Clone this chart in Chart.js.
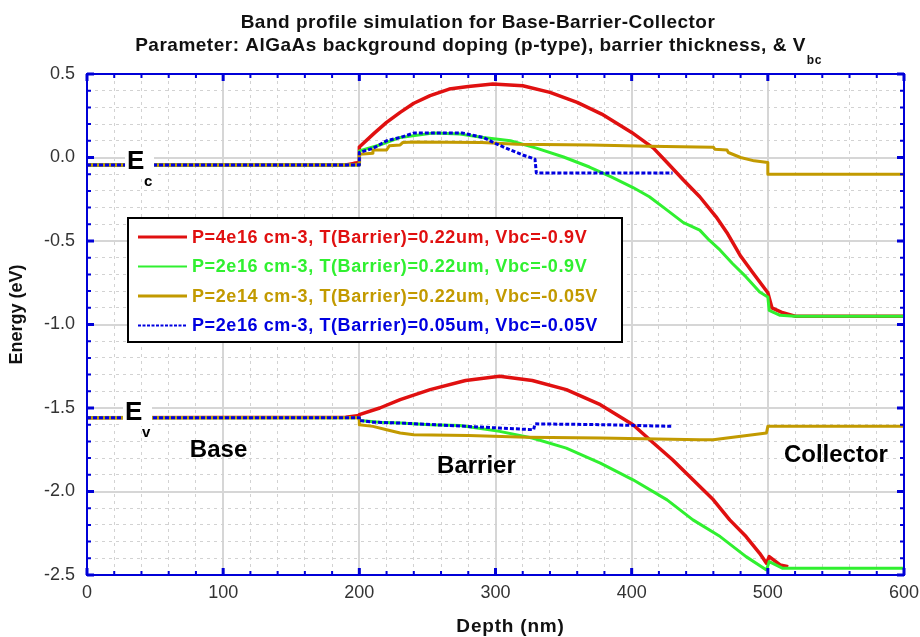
<!DOCTYPE html>
<html>
<head>
<meta charset="utf-8">
<script src="https://cdn.jsdelivr.net/npm/chart.js@4.4.1/dist/chart.umd.min.js"></script>
<style>
  body { margin: 0; background: #fff; }
</style>
</head>
<body>
<canvas id="bandcanvas" width="920" height="637"></canvas>
<script>
// x limits (nm) and energy limits (eV)
const depthMin = 0;
const depthMax = 600;
const energyMin = -2.5;
const energyMax = 0.5;

const legendLabels = [
  'P=4e16 cm-3, T(Barrier)=0.22um, Vbc=-0.9V',
  'P=2e16 cm-3, T(Barrier)=0.22um, Vbc=-0.9V',
  'P=2e14 cm-3, T(Barrier)=0.22um, Vbc=-0.05V',
  'P=2e16 cm-3, T(Barrier)=0.05um, Vbc=-0.05V'
];
const seriesColors = ['#e01010', '#30f030', '#c29a00', '#0000e0'];

// conduction band edges, [depth nm, energy eV]
const redEc = [[0,-0.045],[190,-0.045],[196,-0.035],[200,-0.03],[200,0.063],[211,0.146],[220,0.21],[230,0.27],
  [240,0.325],[252,0.37],[266,0.41],[280,0.425],[298,0.44],[320,0.43],[340,0.39],[360,0.33],[378,0.26],
  [400,0.15],[416,0.056],[426,-0.03],[438,-0.135],[450,-0.235],[462,-0.355],[470,-0.45],[480,-0.59],
  [489,-0.69],[500,-0.81],[503,-0.90],[511,-0.93],[520,-0.95],[600,-0.95]];
const greenEc = [[0,-0.045],[200,-0.045],[200,0.04],[215,0.075],[230,0.12],[254,0.146],[274,0.14],[291,0.12],
  [311,0.10],[330,0.056],[350,0.003],[369,-0.057],[385,-0.116],[401,-0.18],[413,-0.235],[426,-0.315],
  [438,-0.39],[450,-0.435],[457,-0.495],[465,-0.555],[474,-0.635],[484,-0.715],[494,-0.805],[500,-0.835],
  [501,-0.915],[509,-0.945],[520,-0.95],[600,-0.95]];
const goldEc = [[0,-0.045],[200,-0.045],[200,0.02],[210,0.025],[210,0.045],[220,0.045],[222,0.07],[230,0.075],
  [232,0.09],[240,0.093],[290,0.09],[316,0.08],[370,0.075],[413,0.068],[460,0.062],[461,0.05],[470,0.045],
  [471,0.03],[480,0.0],[490,-0.02],[500,-0.03],[500,-0.10],[600,-0.10]];
const blueEc = [[0,-0.045],[200,-0.045],[200,0.03],[210,0.055],[220,0.10],[230,0.12],[240,0.146],[276,0.146],
  [291,0.12],[301,0.08],[311,0.045],[320,0.015],[329,-0.01],[330,-0.093],[430,-0.093]];

// valence band edges
const redEv = [[0,-1.558],[190,-1.555],[200,-1.545],[200,-1.54],[215,-1.50],[230,-1.45],[252,-1.39],[278,-1.335],
  [303,-1.31],[327,-1.335],[352,-1.39],[377,-1.48],[401,-1.60],[416,-1.71],[430,-1.81],[445,-1.93],
  [460,-2.05],[472,-2.17],[484,-2.27],[494,-2.37],[499,-2.43],[501,-2.39],[509,-2.44],[515,-2.45]];
const greenEv = [[0,-1.558],[200,-1.558],[200,-1.575],[215,-1.585],[230,-1.59],[252,-1.60],[274,-1.605],
  [303,-1.64],[327,-1.68],[352,-1.74],[377,-1.83],[401,-1.93],[426,-2.05],[445,-2.17],[465,-2.27],
  [484,-2.39],[499,-2.47],[501,-2.42],[511,-2.46],[600,-2.46]];
const goldEv = [[0,-1.558],[200,-1.558],[200,-1.60],[210,-1.61],[220,-1.63],[230,-1.65],[240,-1.66],[280,-1.665],
  [323,-1.675],[377,-1.68],[450,-1.69],[460,-1.69],[470,-1.68],[489,-1.66],[499,-1.65],[500,-1.61],[600,-1.61]];
const blueEv = [[0,-1.558],[200,-1.558],[200,-1.575],[210,-1.585],[230,-1.59],[279,-1.61],[303,-1.62],
  [328,-1.63],[329,-1.595],[380,-1.60],[430,-1.61]];

// region names placed in data units: [text, depth, energy]
const regionLabels = [['Base', 96.6, -1.751], ['Barrier', 286, -1.847], ['Collector', 550, -1.781]];

const axisBlue = '#0000d8';
const fontFamily = "'Liberation Sans', Arial, sans-serif";

function isMajorX(v) { return Math.abs(v % 100) < 1e-6; }
function isMajorY(v) { return Math.abs(v * 2 - Math.round(v * 2)) < 1e-6; }

// one dataset per run, Ec and Ev split by a null point
function bandData(ec, ev) {
  const pts = ec.map(p => ({x: p[0], y: p[1]}));
  pts.push({x: ec[ec.length - 1][0], y: null});
  return pts.concat(ev.map(p => ({x: p[0], y: p[1]})));
}

const datasets = [
  {label: legendLabels[0], data: bandData(redEc, redEv), borderColor: seriesColors[0], borderWidth: 3.5, order: 3},
  {label: legendLabels[1], data: bandData(greenEc, greenEv), borderColor: seriesColors[1], borderWidth: 3, order: 2},
  {label: legendLabels[2], data: bandData(goldEc, goldEv), borderColor: seriesColors[2], borderWidth: 3, order: 1},
  {label: legendLabels[3], data: bandData(blueEc, blueEv), borderColor: seriesColors[3], borderWidth: 3,
   borderDash: [4, 2], order: 0}
];

const bandDecor = {
  id: 'bandDecor',
  afterDatasetsDraw(chart) {
    const ctx = chart.ctx;
    const {left, right, top, bottom} = chart.chartArea;
    const xs = chart.scales.x, ys = chart.scales.y;
    ctx.save();

    // E_c / E_v labels on white patches
    const subLabel = (d, e, sub, subDy) => {
      const px = xs.getPixelForValue(d), py = ys.getPixelForValue(e);
      ctx.fillStyle = '#fff';
      ctx.fillRect(px - 2, py - 14, 29, 27);
      ctx.fillStyle = '#000';
      ctx.font = 'bold 26px ' + fontFamily;
      ctx.textBaseline = 'middle';
      ctx.textAlign = 'left';
      ctx.fillText('E', px, py);
      ctx.font = 'bold 15px ' + fontFamily;
      ctx.fillText(sub, px + 17, py + subDy);
    };
    subLabel(29.4, -0.027, 'c', 20);
    subLabel(27.9, -1.53, 'v', 20);

    // region names
    ctx.font = 'bold 24px ' + fontFamily;
    ctx.textAlign = 'center';
    ctx.textBaseline = 'middle';
    ctx.fillStyle = '#000';
    regionLabels.forEach(r => ctx.fillText(r[0], xs.getPixelForValue(r[1]), ys.getPixelForValue(r[2])));

    // frame and inward ticks
    ctx.strokeStyle = axisBlue;
    ctx.lineWidth = 2;
    ctx.strokeRect(left, top, right - left, bottom - top);
    xs.ticks.forEach(t => {
      const px = xs.getPixelForValue(t.value);
      const len = isMajorX(t.value) ? 7 : 4;
      ctx.lineWidth = isMajorX(t.value) ? 3 : 2;
      ctx.beginPath();
      ctx.moveTo(px, bottom); ctx.lineTo(px, bottom - len);
      ctx.moveTo(px, top); ctx.lineTo(px, top + len);
      ctx.stroke();
    });
    ys.ticks.forEach(t => {
      const py = ys.getPixelForValue(t.value);
      const len = isMajorY(t.value) ? 7 : 4;
      ctx.lineWidth = isMajorY(t.value) ? 3 : 2;
      ctx.beginPath();
      ctx.moveTo(left, py); ctx.lineTo(left + len, py);
      ctx.moveTo(right, py); ctx.lineTo(right - len, py);
      ctx.stroke();
    });

    // legend box
    const lx = left + 41, ly = top + 144, lw = 494, lh = 124;
    ctx.fillStyle = '#fff';
    ctx.fillRect(lx, ly, lw, lh);
    ctx.strokeStyle = '#000';
    ctx.lineWidth = 2;
    ctx.strokeRect(lx, ly, lw, lh);
    chart.data.datasets.forEach((ds, i) => {
      const ry = ly + 19 + i * 29.5;
      ctx.strokeStyle = ds.borderColor;
      ctx.lineWidth = (i === 0 || i === 2) ? 3 : 2;
      ctx.setLineDash(ds.borderDash ? [3, 1.5] : []);
      ctx.beginPath();
      ctx.moveTo(lx + 10, ry); ctx.lineTo(lx + 59, ry);
      ctx.stroke();
      ctx.setLineDash([]);
      ctx.fillStyle = ds.borderColor;
      ctx.font = 'bold 18px ' + fontFamily;
      ctx.letterSpacing = '0.6px';
      ctx.textAlign = 'left';
      ctx.textBaseline = 'middle';
      ctx.fillText(ds.label, lx + 64, ry + 1);
      ctx.letterSpacing = '0px';
    });
    ctx.restore();
  },
  afterDraw(chart) {
    const ctx = chart.ctx;
    const {left, right, top, bottom} = chart.chartArea;
    ctx.save();
    ctx.fillStyle = '#111';
    ctx.textBaseline = 'middle';
    ctx.textAlign = 'center';
    ctx.font = 'bold 19px ' + fontFamily;
    ctx.letterSpacing = '0.5px';
    ctx.fillText('Band profile simulation for Base-Barrier-Collector', 478, 23);
    const main = 'Parameter: AlGaAs background doping (p-type), barrier thickness, & V';
    const w1 = ctx.measureText(main).width;
    ctx.font = 'bold 12px ' + fontFamily;
    const w2 = ctx.measureText('bc').width;
    const x0 = 478 - (w1 + w2) / 2;
    ctx.textAlign = 'left';
    ctx.font = 'bold 19px ' + fontFamily;
    ctx.fillText(main, x0, 46);
    ctx.font = 'bold 12px ' + fontFamily;
    ctx.fillText('bc', x0 + w1 + 1, 61);

    // axis titles
    ctx.textAlign = 'center';
    ctx.font = 'bold 19px ' + fontFamily;
    ctx.letterSpacing = '0.8px';
    ctx.fillText('Depth (nm)', (left + right) / 2 + 15, 627);
    ctx.letterSpacing = '0px';
    ctx.translate(17, (top + bottom) / 2 - 10);
    ctx.rotate(-Math.PI / 2);
    ctx.font = 'bold 18px ' + fontFamily;
    ctx.fillText('Energy (eV)', 0, 0);
    ctx.restore();
  }
};

const canvas = document.getElementById('bandcanvas');
const ctx = canvas.getContext('2d');

window.chart = new Chart(ctx, {
  type: 'line',
  data: { datasets: datasets },
  options: {
    responsive: false,
    animation: false,
    layout: { padding: { top: 74, right: 16, left: 0, bottom: 0 } },
    elements: {
      line: { tension: 0, borderJoinStyle: 'round', fill: false },
      point: { radius: 0 }
    },
    plugins: {
      legend: { display: false },
      tooltip: { enabled: false },
      title: { display: false }
    },
    scales: {
      x: {
        type: 'linear',
        min: depthMin,
        max: depthMax,
        afterFit: s => { s.height = 62; s.paddingLeft = 0; s.paddingRight = 0; },
        ticks: {
          stepSize: 20,
          autoSkip: false,
          maxRotation: 0,
          padding: 7,
          color: '#333',
          font: { family: fontFamily, size: 18 },
          callback: v => isMajorX(v) ? String(v) : ''
        },
        grid: {
          drawTicks: false,
          color: c => (c.tick && isMajorX(c.tick.value)) ? '#d6d6d6' : '#d2d2d2',
          lineWidth: c => (c.tick && isMajorX(c.tick.value)) ? 2 : 1
        },
        border: {
          display: true, color: axisBlue, width: 2,
          dash: c => (c.tick && !isMajorX(c.tick.value)) ? [3, 4] : []
        }
      },
      y: {
        type: 'linear',
        min: energyMin,
        max: energyMax,
        afterFit: s => { s.width = 87; },
        ticks: {
          stepSize: 0.1,
          autoSkip: false,
          padding: 12,
          color: '#333',
          font: { family: fontFamily, size: 18 },
          callback: v => isMajorY(v) ? Number(v).toFixed(1) : ''
        },
        grid: {
          drawTicks: false,
          color: c => (c.tick && isMajorY(c.tick.value)) ? '#d6d6d6' : '#d2d2d2',
          lineWidth: c => (c.tick && isMajorY(c.tick.value)) ? 2 : 1
        },
        border: {
          display: true, color: axisBlue, width: 2,
          dash: c => (c.tick && !isMajorY(c.tick.value)) ? [3, 4] : []
        }
      }
    }
  },
  plugins: [bandDecor]
});
</script>
</body>
</html>
